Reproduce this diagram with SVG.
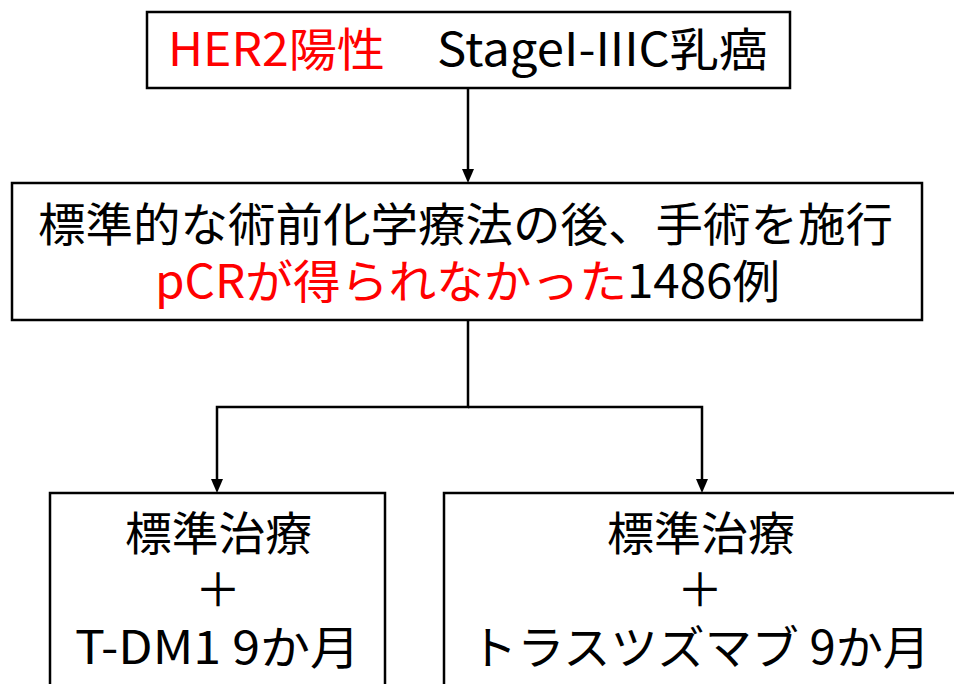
<svg xmlns="http://www.w3.org/2000/svg" width="954" height="684" viewBox="0 0 954 684">
<style>
.box{fill:#fff;stroke:#000;stroke-width:2.5}
.t{font-family:"Noto Sans CJK JP","Noto Sans",sans-serif;font-size:46px;fill:#000}
.r{fill:#ff0000}
.c{stroke:#000;stroke-width:2.5;fill:none}
</style>
<defs>
<marker id="ah" markerWidth="12" markerHeight="14" refX="6" refY="14" orient="auto-start-reverse" markerUnits="userSpaceOnUse" viewBox="0 0 12 14">
<path d="M0,0 L12,0 L6,14 Z" fill="#000" transform="rotate(0)"/>
</marker>
</defs>
<rect width="954" height="684" fill="#fff"/>
<g id="connectors">
<line class="c" x1="468" y1="88" x2="468" y2="169"/>
<path d="M462,169 L474,169 L468,183 Z" fill="#000"/>
<polyline class="c" points="468,320 468,407 217,407 217,479"/>
<path d="M211,479 L223,479 L217,493 Z" fill="#000"/>
<polyline class="c" points="468,407 702,407 702,479"/>
<path d="M696,479 L708,479 L702,493 Z" fill="#000"/>
</g>
<g id="n1">
<rect class="box" x="147" y="12" width="643" height="76"/>
<text class="t r" x="168" y="66" textLength="217" lengthAdjust="spacingAndGlyphs">HER2陽性</text>
<text class="t" x="437" y="66" textLength="331" lengthAdjust="spacingAndGlyphs">StageI-IIIC乳癌</text>
</g>
<g id="n2">
<rect class="box" x="12" y="183" width="910" height="137"/>
<text class="t" x="38" y="241" textLength="855" lengthAdjust="spacingAndGlyphs">標準的な術前化学療法の後、手術を施行</text>
<text class="t r" x="155" y="298" textLength="472" lengthAdjust="spacingAndGlyphs">pCRが得られなかった</text>
<text class="t" x="627" y="298" textLength="153" lengthAdjust="spacingAndGlyphs">1486例</text>
</g>
<g id="n3">
<rect class="box" x="50" y="493" width="335" height="200"/>
<text class="t" x="125" y="550" textLength="187" lengthAdjust="spacingAndGlyphs">標準治療</text>
<text class="t" x="218" y="606" text-anchor="middle">＋</text>
<text class="t" x="75" y="664" textLength="285" lengthAdjust="spacingAndGlyphs">T-DM1 9か月</text>
</g>
<g id="n4">
<rect class="box" x="444" y="493" width="530" height="200"/>
<text class="t" x="607" y="550" textLength="188" lengthAdjust="spacingAndGlyphs">標準治療</text>
<text class="t" x="700" y="606" text-anchor="middle">＋</text>
<text class="t" x="470" y="664" textLength="460" lengthAdjust="spacingAndGlyphs">トラスツズマブ 9か月</text>
</g>
</svg>
